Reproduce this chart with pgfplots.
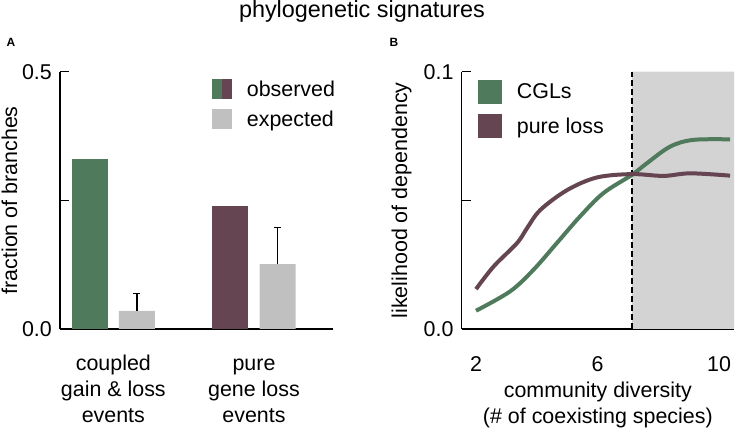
\documentclass[border=0pt]{standalone}
\usepackage{pgfplots}
\pgfplotsset{compat=1.18}
\usepackage{fontspec}
\setmainfont{Liberation Sans}
\definecolor{cgl}{HTML}{4F7A5C}
\definecolor{ploss}{HTML}{644551}
\definecolor{expg}{HTML}{C0C0C0}
\definecolor{shade}{HTML}{D3D3D3}
\newcommand{\fs}{\fontsize{21.5}{26}\selectfont}
\pgfplotsset{
  common/.style={
    scale only axis,
    anchor=south west,
    font=\fs,
    axis x line*=bottom,
    axis y line*=left,
    axis line style={line width=1.4bp, black},
    tick align=inside,
    major tick length=9bp,
    ytick style={line width=1.4bp, black},
    xtick style={draw=none},
    yticklabel style={inner sep=0pt, xshift=-8bp, font=\fs},
    xticklabel style={inner sep=0pt, anchor=north, font=\fs, align=center},
    tick label style={font=\fs},
    ylabel style={anchor=base, font=\fs},
    legend style={draw=none, fill=none, inner sep=0pt, font=\fs,
      row sep=10bp, nodes={inner sep=0pt},
      /tikz/every odd column/.append style={column sep=15bp}},
    legend cell align=left,
  }
}
\begin{document}
\begin{tikzpicture}
\useasboundingbox (0,0) rectangle (736bp,428bp);
\node[anchor=base, font=\fontsize{23.5}{28}\selectfont] at (362bp,410bp) {phylogenetic signatures};
\node[anchor=base west, inner sep=0pt, font=\fontsize{12}{14}\selectfont\bfseries] at (6.5bp,381bp) {A};
\node[anchor=base west, inner sep=0pt, font=\fontsize{12}{14}\selectfont\bfseries] at (389.5bp,381bp) {B};

% Panel A
\begin{axis}[common,
  at={(60bp,99bp)}, width=273bp, height=257.3bp,
  xmin=0.6207, xmax=2.5617, ymin=0, ymax=0.5,
  ytick={0,0.25,0.5}, yticklabels={0.0,,0.5},
  xtick={1,2},
  xticklabels={\strut coupled\\gain \& loss\\events, \strut pure\\gene loss\\events},
  xticklabel style={yshift=-14.5bp},
  ylabel={fraction of branches},
  ylabel style={at={(axis description cs:-0.1575,0.5)}},
  legend style={at={(axis description cs:0,1)}, anchor=north west, xshift=151.7bp, yshift=-7.3bp},
  ybar, bar width=36bp,
]
\addplot[ybar, bar shift=-23.65bp, fill=cgl, draw=none, forget plot] coordinates {(1,0.330)};
\addplot[ybar, bar shift=-23.65bp, fill=ploss, draw=none,
  legend image code/.code={\fill[cgl] (0bp,-10bp) rectangle (10bp,10bp); \fill[ploss] (10bp,-10bp) rectangle (20bp,10bp);}] coordinates {(2,0.239)};
\addlegendentry{observed}
\addplot[ybar, bar shift=23.65bp, fill=expg, draw=none,
  legend image code/.code={\fill[expg] (0bp,-10bp) rectangle (20bp,10bp);},
  error bars/.cd, y dir=plus, y explicit,
  error bar style={line width=1.4bp, black},
  error mark options={rotate=90, mark size=3.5bp, line width=1.4bp, black}]
  table[x=x, y=y, y error=e] {
  x y e
  1 0.035 0.034
  2 0.126 0.071
  };
\addlegendentry{expected}
\end{axis}

% Panel B
\begin{axis}[common,
  at={(461.7bp,99bp)}, width=272.3bp, height=257.3bp,
  xmin=1.529, xmax=10.49, ymin=0, ymax=0.1,
  ytick={0,0.05,0.1}, yticklabels={0.0,,0.1},
  xtick={2,6,10}, xticklabels={\strut 2,\strut 6,\strut 10},
  xticklabel style={yshift=-24.5bp},
  xlabel={\strut community diversity\\(\# of coexisting species)},
  xlabel style={at={(axis description cs:0.5,0)}, anchor=north, inner sep=0pt, yshift=-50.5bp, align=center, font=\fs},
  ylabel={likelihood of dependency},
  ylabel style={at={(axis description cs:-0.2009,0.5)}},
  legend style={at={(axis description cs:0,1)}, anchor=north west, xshift=16bp, yshift=-8.3bp},
  legend image code/.code={\fill[#1] (0bp,-10bp) rectangle (20bp,10bp);},
]
\addplot[fill=shade, draw=none, forget plot] coordinates {(7.13,0) (7.13,0.1) (10.49,0.1) (10.49,0)} \closedcycle;
\addplot[black, line width=1.4bp, dash pattern=on 6bp off 3bp, forget plot] coordinates {(7.13,0) (7.13,0.1)};
\addplot[cgl, line width=4bp, smooth, tension=0.55, fill=none] coordinates {
  (2,0.0071) (3.12,0.0146) (3.89,0.023) (4.66,0.0334) (5.42,0.0437) (6.19,0.0528)
  (7.13,0.0599) (7.62,0.0644) (8.39,0.0709) (9.15,0.0735) (10.36,0.0737)};
\addlegendentry{CGLs}
\addplot[ploss, line width=4bp, smooth, tension=0.55, fill=none] coordinates {
  (2,0.0155) (2.58,0.0243) (3.35,0.0334) (3.68,0.0392) (4.12,0.0463) (5.0,0.054)
  (5.98,0.0589) (7.13,0.0602) (8.17,0.0595) (9.05,0.0605) (10.36,0.0596)};
\addlegendentry{pure loss}
\end{axis}
\end{tikzpicture}
\end{document}
